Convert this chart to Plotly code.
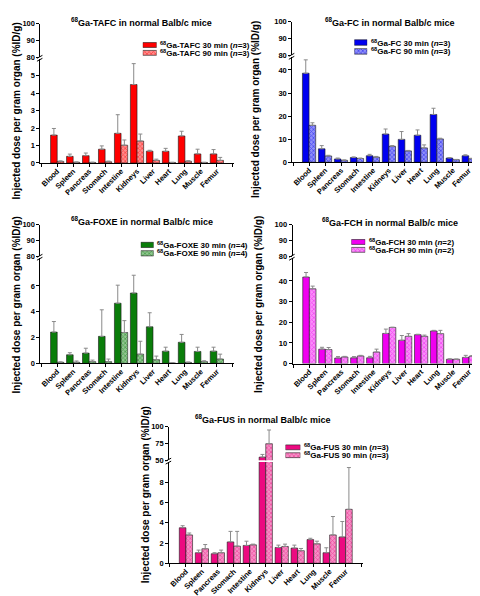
import plotly.graph_objects as go

organs = ["Blood", "Spleen", "Pancreas", "Stomach", "Intestine", "Kidneys",
          "Liver", "Heart", "Lung", "Muscle", "Femur"]

# 68Ga-TAFC (n=3)
tafc_30 = [1.60, 0.38, 0.42, 0.79, 1.70, 4.50, 0.68, 0.67, 1.55, 0.52, 0.52]
tafc_30_sd = [0.38, 0.13, 0.15, 0.19, 1.07, 1.20, 0.05, 0.17, 0.27, 0.27, 0.25]
tafc_90 = [0.09, 0.04, 0.03, 0.07, 1.02, 1.26, 0.15, 0.03, 0.10, 0.03, 0.15]
tafc_90_sd = [0.03, 0.02, 0.02, 0.04, 0.30, 0.40, 0.07, 0.01, 0.03, 0.01, 0.17]

# 68Ga-FC (n=3)
fc_30 = [38.6, 5.8, 1.4, 2.0, 2.8, 12.2, 9.9, 11.7, 20.7, 1.8, 2.8]
fc_30_sd = [5.8, 1.4, 0.4, 0.3, 0.6, 2.2, 3.4, 2.3, 2.7, 0.2, 0.4]
fc_90 = [16.0, 2.7, 0.8, 1.6, 2.2, 6.9, 4.9, 6.2, 10.1, 1.1, 1.5]
fc_90_sd = [1.1, 0.3, 0.2, 0.2, 0.3, 0.3, 0.2, 1.3, 0.3, 0.1, 0.2]

# 68Ga-FOXE (n=4)
foxe_30 = [2.42, 0.66, 0.79, 2.09, 4.66, 5.45, 2.83, 0.94, 1.63, 0.92, 0.94]
foxe_30_sd = [0.82, 0.16, 0.38, 2.06, 1.40, 1.38, 1.09, 0.31, 0.61, 0.33, 0.31]
foxe_90 = [0.08, 0.08, 0.13, 0.13, 2.39, 0.71, 0.28, 0.02, 0.07, 0.13, 0.33]
foxe_90_sd = [0.03, 0.10, 0.12, 0.20, 0.92, 1.00, 0.28, 0.01, 0.03, 0.07, 0.38]

# 68Ga-FCH (n=2)
fch_30 = [41.9, 7.0, 2.7, 2.8, 2.8, 14.6, 11.3, 14.0, 15.8, 2.1, 3.0]
fch_30_sd = [2.2, 0.9, 0.7, 0.6, 0.7, 2.1, 2.3, 0.2, 0.3, 0.2, 1.0]
fch_90 = [36.2, 6.8, 3.2, 3.7, 5.6, 17.5, 13.2, 13.2, 14.5, 2.1, 3.6]
fch_90_sd = [1.3, 1.0, 0.3, 0.3, 1.4, 0.1, 1.3, 0.6, 1.6, 0.1, 0.3]

# 68Ga-FUS (n=3)
fus_30 = [3.51, 1.04, 0.94, 2.11, 1.76, 54.5, 1.56, 1.50, 2.34, 1.04, 2.60]
fus_30_sd = [0.20, 0.26, 0.10, 1.04, 0.42, 4.0, 0.23, 0.29, 0.13, 0.49, 1.53]
fus_90 = [2.80, 1.43, 1.04, 1.69, 1.82, 74.5, 1.66, 1.24, 1.92, 2.80, 5.33]
fus_90_sd = [0.19, 0.42, 0.26, 1.46, 0.07, 20.5, 0.23, 0.22, 0.26, 1.82, 4.13]

panels = [
    dict(name="TAFC", n=3, v30=tafc_30, e30=tafc_30_sd, v90=tafc_90, e90=tafc_90_sd,
         color="#FF0000", tint="#FF8C8C"),
    dict(name="FC", n=3, v30=fc_30, e30=fc_30_sd, v90=fc_90, e90=fc_90_sd,
         color="#0000F0", tint="#9090F8"),
    dict(name="FOXE", n=4, v30=foxe_30, e30=foxe_30_sd, v90=foxe_90, e90=foxe_90_sd,
         color="#0A7D0A", tint="#91C591"),
    dict(name="FCH", n=2, v30=fch_30, e30=fch_30_sd, v90=fch_90, e90=fch_90_sd,
         color="#F000F0", tint="#F890F8"),
    dict(name="FUS", n=3, v30=fus_30, e30=fus_30_sd, v90=fus_90, e90=fus_90_sd,
         color="#EC0A80", tint="#F691C6"),
]

# ---- layout geometry (pixels in the 480x596 page) ----
W, H = 480, 596
geom = [
    dict(bx=48.3, up=(12, 46), low=(48, 153.3), lowmax=5.95, lowticks=[0, 1, 2, 3, 4, 5],
         upr=(80, 100), upticks=[80, 90, 100], title=(133, 10), ytitle=(8, 100), leg=(134, 148, 33.5, 8)),
    dict(bx=300.7, up=(10, 44), low=(46, 152.5), lowmax=45.5, lowticks=[0, 10, 20, 30, 40],
         upr=(80, 100), upticks=[80, 90, 100], title=(382, 10), ytitle=(247, 99), leg=(346, 359, 31, 9)),
    dict(bx=48.3, up=(216, 248), low=(250, 356.7), lowmax=8.15, lowticks=[0, 2, 4, 6],
         upr=(80, 100), upticks=[80, 90, 100], title=(133, 212), ytitle=(8, 297), leg=(132, 145, 236.5, 8.5)),
    dict(bx=301, up=(216, 248), low=(250, 357), lowmax=51, lowticks=[0, 10, 20, 30, 40],
         upr=(80, 100), upticks=[80, 90, 100], title=(382, 213), ytitle=(250, 297), leg=(343, 357, 233.5, 8)),
    dict(bx=177.3, up=(421, 455), low=(457, 559.7), lowmax=10.0, lowticks=[0, 2, 4, 6, 8],
         upr=(50, 100), upticks=[50, 75, 100], title=(255, 413), ytitle=(137, 490), leg=(277, 292, 442, 8)),
]
SP = 16.0
XR = (-1.05, 11.1)

FONT = "Liberation Sans, Arial, sans-serif"
ERR = "#8a8a8a"
EDGE = "#1a1a1a"


def fx(px):
    return px / W


def fy(py):
    return 1 - py / H


def ax_name(kind, idx):
    return kind + ("" if idx == 1 else str(idx))


fig = go.Figure()
xs = list(range(len(organs)))
annotations = []
shapes = []

for i, (p, g) in enumerate(zip(panels, geom)):
    xi = i + 1
    ylo = 2 * i + 1
    yup = 2 * i + 2
    c = p["color"]
    solid_marker = dict(color=c, line=dict(color=EDGE, width=0.6))
    hatch_marker = dict(color=p["tint"],
                        pattern=dict(shape="x", fgcolor=c, bgcolor=p["tint"], size=3, solidity=0.45),
                        line=dict(color=EDGE, width=0.6))
    lab30 = f"<sup>68</sup>Ga-{p['name']} 30 min (<i>n</i>={p['n']})"
    lab90 = f"<sup>68</sup>Ga-{p['name']} 90 min (<i>n</i>={p['n']})"
    for yi in (ylo, yup):
        for vals, errs, mk, lab in ((p["v30"], p["e30"], solid_marker, lab30),
                                    (p["v90"], p["e90"], hatch_marker, lab90)):
            fig.add_trace(go.Bar(
                x=xs, y=vals, name=lab, marker=mk, showlegend=False,
                error_y=dict(type="data", symmetric=False, array=errs,
                             arrayminus=[0] * len(errs), color=ERR, thickness=1, width=2),
                xaxis=ax_name("x", xi), yaxis=ax_name("y", yi),
            ))

    x0 = g["bx"] + XR[0] * SP
    x1 = g["bx"] + XR[1] * SP
    tickfont = dict(family=FONT, size=7.5, color="black", weight="bold")
    common = dict(showgrid=False, zeroline=False, showline=True, linecolor="black", linewidth=1,
                  ticks="outside", ticklen=3, tickwidth=1, tickcolor="black", tickfont=tickfont)
    fig.layout[ax_name("xaxis", xi)] = dict(
        domain=[fx(x0), fx(x1)], anchor=ax_name("y", ylo), range=list(XR),
        tickmode="array", tickvals=list(range(-1, len(organs) + 1)),
        ticktext=[""] + organs + [""], tickangle=-45, ticklabelstandoff=-3, **common)
    fig.layout[ax_name("yaxis", ylo)] = dict(
        domain=[fy(g["low"][1]), fy(g["low"][0])], anchor=ax_name("x", xi),
        range=[0, g["lowmax"]], tickmode="array", tickvals=g["lowticks"], **common)
    fig.layout[ax_name("yaxis", yup)] = dict(
        domain=[fy(g["up"][1]), fy(g["up"][0])], anchor=ax_name("x", xi),
        range=list(g["upr"]), tickmode="array", tickvals=g["upticks"], **common)

    # panel title
    annotations.append(dict(
        text=f"<sup>68</sup>Ga-{p['name']} in normal Balb/c mice", x=fx(g["title"][0]), y=fy(g["title"][1]),
        xref="paper", yref="paper", xanchor="center", yanchor="middle", showarrow=False,
        font=dict(family=FONT, size=9, color="black", weight="bold")))
    # y title
    annotations.append(dict(
        text="Injected dose per gram organ (%ID/g)", x=fx(g["ytitle"][0]), y=fy(g["ytitle"][1]),
        xref="paper", yref="paper", xanchor="center", yanchor="middle", textangle=-90, showarrow=False,
        font=dict(family=FONT, size=10, color="black", weight="bold")))

    # axis break marks
    yb = (g["up"][1] + g["low"][0]) / 2
    for off in (-1.5, 1.5):
        shapes.append(dict(type="line", xref="paper", yref="paper",
                           x0=fx(x0 - 3.5), y0=fy(yb + off + 1.5), x1=fx(x0 + 2), y1=fy(yb + off - 1.5),
                           line=dict(color="black", width=1)))

    # compact legend (keys drawn as bars on a small hidden axis)
    lx0, lx1, lyc, lsp = g["leg"]
    lxi = 6 + i
    lyi = 11 + i
    fig.layout[ax_name("xaxis", lxi)] = dict(domain=[fx(lx0), fx(lx1)], range=[0, 1], visible=False,
                                             anchor=ax_name("y", lyi), fixedrange=True)
    fig.layout[ax_name("yaxis", lyi)] = dict(domain=[fy(lyc + 1.5 * lsp), fy(lyc - 0.5 * lsp)],
                                             range=[1.5, -0.5], visible=False,
                                             anchor=ax_name("x", lxi), fixedrange=True)
    for row, (mk, lab) in enumerate(((solid_marker, lab30), (hatch_marker, lab90))):
        fig.add_trace(go.Bar(x=[1], y=[row], orientation="h", width=0.62, offsetgroup="leg",
                             marker=mk, showlegend=False, hoverinfo="skip",
                             xaxis=ax_name("x", lxi), yaxis=ax_name("y", lyi)))
        annotations.append(dict(
            text=lab, x=fx(lx1 + 1.5), y=fy(lyc + row * lsp), xref="paper", yref="paper",
            xanchor="left", yanchor="middle", showarrow=False,
            font=dict(family=FONT, size=8, color="black", weight="bold")))

fig.update_layout(
    width=W, height=H, margin=dict(l=0, r=0, t=0, b=0),
    paper_bgcolor="white", plot_bgcolor="white",
    barmode="group", bargap=0.17, bargroupgap=0,
    showlegend=False, annotations=annotations, shapes=shapes,
    font=dict(family=FONT, color="black"),
)

fig.write_html("out.html")
